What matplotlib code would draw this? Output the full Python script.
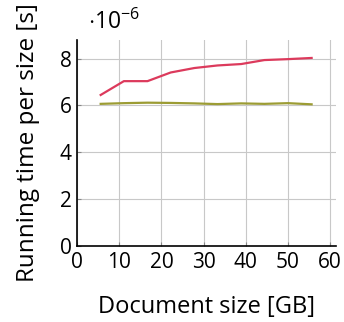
import matplotlib
matplotlib.use("Agg")
import matplotlib.pyplot as plt

plt.rcParams['font.family'] = ['Open Sans', 'DejaVu Sans']
plt.rcParams['mathtext.fontset'] = 'custom'
plt.rcParams['mathtext.rm'] = 'Open Sans'

sizes_gb = [5.6, 11.1, 16.7, 22.2, 27.8, 33.3, 38.9, 44.4, 50.0, 55.6]
red_series = [6.45e-6, 7.04e-6, 7.04e-6, 7.41e-6, 7.60e-6, 7.71e-6, 7.77e-6, 7.94e-6, 7.98e-6, 8.03e-6]
green_series = [6.07e-6, 6.10e-6, 6.12e-6, 6.11e-6, 6.09e-6, 6.06e-6, 6.09e-6, 6.07e-6, 6.10e-6, 6.05e-6]
xticks = [0, 10, 20, 30, 40, 50, 60]
yticks = [0, 2, 4, 6, 8]

fig = plt.figure(figsize=(3.44, 3.22), dpi=100)
ax = fig.add_axes([0.224, 0.236, 0.753, 0.64])

ax.plot(sizes_gb, green_series, color='#9c9c34', lw=1.6)
ax.plot(sizes_gb, red_series, color='#dc3a5c', lw=1.6)

ax.set_xlim(0, 61.4)
ax.set_ylim(0, 8.8e-6)
ax.set_xticks(xticks)
ax.set_yticks([v * 1e-6 for v in yticks])
ax.set_xticklabels([str(v) for v in xticks])
ax.set_yticklabels([str(v) for v in yticks])
ax.grid(True, color='#c8c8c8', lw=0.8)
ax.set_axisbelow(True)
for s in ['top', 'right']:
    ax.spines[s].set_visible(False)
for s in ['left', 'bottom']:
    ax.spines[s].set_linewidth(1.2)
ax.tick_params(direction='in', length=3, width=0.8, labelsize=15, pad=4, color='#888888')
ax.set_xlabel('Document size [GB]', fontsize=17, labelpad=16)
ax.set_ylabel('Running time per size [s]', fontsize=17.5, labelpad=14)
fig.text(0.255, 0.93, r'$\cdot 10^{-6}$', fontsize=16.5, ha='left', va='center')

fig.savefig('out.png', dpi=100)
